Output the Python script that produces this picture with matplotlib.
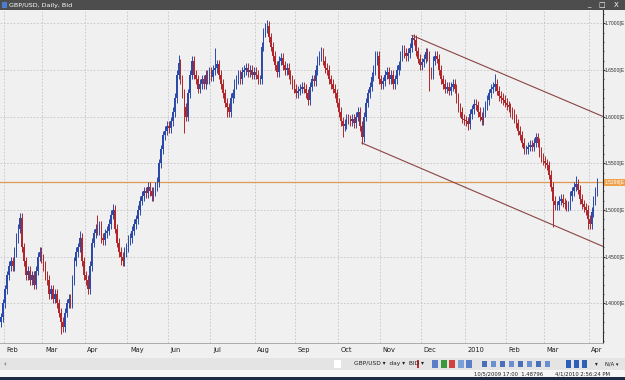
import numpy as np
import pandas as pd
import matplotlib
matplotlib.use("Agg")
import matplotlib.pyplot as plt
from matplotlib.patches import Rectangle
import matplotlib.transforms as mtransforms

# ---------------- data (GBP/USD daily closes) ----------------
closes = [
    1.385, 1.400, 1.415, 1.430, 1.440, 1.445, 1.440, 1.455, 1.470, 1.480,
    1.492, 1.460, 1.445, 1.430, 1.435, 1.425, 1.430, 1.420, 1.435, 1.450,
    1.455, 1.448, 1.440, 1.430, 1.425, 1.410, 1.415, 1.405, 1.410, 1.400,
    1.390, 1.380, 1.375, 1.390, 1.400, 1.405, 1.400, 1.425, 1.445, 1.455,
    1.460, 1.470, 1.445, 1.430, 1.425, 1.415, 1.440, 1.465, 1.475, 1.480,
    1.478, 1.483, 1.470, 1.468, 1.475, 1.478, 1.485, 1.495, 1.500, 1.480,
    1.465, 1.455, 1.450, 1.445, 1.455, 1.460, 1.468, 1.470, 1.478, 1.485,
    1.490, 1.500, 1.510, 1.515, 1.520, 1.518, 1.525, 1.520, 1.515, 1.520,
    1.525, 1.530, 1.550, 1.565, 1.580, 1.585, 1.590, 1.588, 1.595, 1.605,
    1.620, 1.645, 1.657, 1.640, 1.625, 1.610, 1.600, 1.625, 1.645, 1.660,
    1.645, 1.640, 1.630, 1.635, 1.640, 1.635, 1.645, 1.640, 1.648, 1.643,
    1.650, 1.652, 1.656, 1.645, 1.635, 1.625, 1.615, 1.610, 1.605, 1.620,
    1.625, 1.635, 1.640, 1.645, 1.640, 1.648, 1.650, 1.652, 1.648, 1.650,
    1.645, 1.648, 1.645, 1.640, 1.640, 1.675, 1.690, 1.695, 1.697, 1.685,
    1.675, 1.665, 1.655, 1.648, 1.660, 1.663, 1.655, 1.650, 1.652, 1.645,
    1.640, 1.635, 1.630, 1.625, 1.628, 1.630, 1.632, 1.630, 1.625, 1.618,
    1.632, 1.640, 1.638, 1.650, 1.660, 1.665, 1.668, 1.660, 1.652, 1.650,
    1.640, 1.635, 1.630, 1.625, 1.615, 1.605, 1.595, 1.590, 1.592, 1.598,
    1.597, 1.595, 1.598, 1.593, 1.600, 1.605, 1.590, 1.578, 1.600, 1.615,
    1.625, 1.632, 1.643, 1.650, 1.660, 1.665, 1.640, 1.635, 1.638, 1.645,
    1.648, 1.640, 1.645, 1.635, 1.640, 1.650, 1.655, 1.665, 1.672, 1.668,
    1.665, 1.668, 1.674, 1.684, 1.682, 1.670, 1.662, 1.655, 1.658, 1.662,
    1.669, 1.665, 1.648, 1.645, 1.660, 1.665, 1.662, 1.650, 1.640, 1.635,
    1.630, 1.632, 1.628, 1.632, 1.635, 1.630, 1.620, 1.610, 1.605, 1.598,
    1.596, 1.595, 1.592, 1.603, 1.608, 1.614, 1.612, 1.605, 1.600, 1.596,
    1.605, 1.612, 1.618, 1.625, 1.630, 1.632, 1.635, 1.628, 1.622, 1.620,
    1.618, 1.615, 1.612, 1.610, 1.605, 1.603, 1.598, 1.593, 1.585, 1.580,
    1.572, 1.565, 1.565, 1.568, 1.570, 1.568, 1.572, 1.578, 1.572, 1.562,
    1.556, 1.553, 1.550, 1.548, 1.538, 1.525, 1.510, 1.505, 1.505, 1.510,
    1.512, 1.508, 1.506, 1.504, 1.505, 1.515, 1.520, 1.525, 1.528, 1.522,
    1.512, 1.506, 1.503, 1.500, 1.490, 1.485, 1.498, 1.510, 1.520, 1.529,
]
first_open = 1.380
start_date = "2009-01-29"

# notable extreme highs / lows (candle index -> price)
extreme_highs = {10: 1.497, 41: 1.478, 50: 1.495, 58: 1.507, 92: 1.666, 111: 1.673,
                 138: 1.703, 166: 1.675, 194: 1.670, 213: 1.687, 256: 1.646, 298: 1.537}
extreme_lows = {31: 1.367, 62: 1.441, 95: 1.582, 117: 1.600, 177: 1.578, 187: 1.571,
                222: 1.627, 242: 1.586, 286: 1.482, 304: 1.480}

last_price = 1.5296
upper_channel_x = [213, 312.5]
upper_channel_y = [1.687, 1.5997]
lower_channel_x = [187, 312.5]
lower_channel_y = [1.5718, 1.4606]
price_ticks = [1.40, 1.45, 1.50, 1.55, 1.60, 1.65, 1.70]
month_names = {1: "2010", 2: "Feb", 3: "Mar", 4: "Apr", 5: "May", 6: "Jun", 7: "Jul",
               8: "Aug", 9: "Sep", 10: "Oct", 11: "Nov", 12: "Dec"}

# ---------------- derived ----------------
n = len(closes)
idx = np.arange(n)
dates = pd.bdate_range(start_date, periods=n)
opens = [first_open] + closes[:-1]
WICK = 0.005
highs = [max(o, c) + WICK for o, c in zip(opens, closes)]
lows = [min(o, c) - WICK for o, c in zip(opens, closes)]
for k, v in extreme_highs.items():
    highs[k] = v
for k, v in extreme_lows.items():
    lows[k] = v

BLUE = "#2a49a8"
RED = "#b0262a"
BG = "#f0f0f0"
AXFONT = ["Liberation Sans", "DejaVu Sans"]
AXFS = 3.6

W, H = 625, 380
fig = plt.figure(figsize=(W / 100, H / 100), dpi=100)
fig.patch.set_facecolor(BG)

top_px, bot_px, right_px = 10, 343, 603
ax = fig.add_axes([0, 1 - bot_px / H, right_px / W, (bot_px - top_px) / H])
ax.set_facecolor(BG)

px_per = 1.93
ax.set_xlim(-0.5, right_px / px_per - 0.5)
ax.set_ylim(1.3577, 1.7142)

# grid
for p in np.arange(1.35, 1.7001, 0.05):
    ax.axhline(p, color="#c4c4c4", lw=0.6, ls=(0, (2, 2)), zorder=0)
month_starts = [i for i in range(1, n) if dates[i].month != dates[i - 1].month]
trans = mtransforms.blended_transform_factory(ax.transData, ax.transAxes)
for i in month_starts:
    ax.axvline(i - 0.5, color="#c4c4c4", lw=0.6, ls=(0, (2, 2)), zorder=0)
    ax.text(i + 0.8, -0.012, month_names[dates[i].month], transform=trans,
            ha="left", va="top", fontsize=4.8, color="#202020", clip_on=False)

# candles
ups = [c >= o for o, c in zip(opens, closes)]
cols = [BLUE if u else RED for u in ups]
ax.vlines(idx, lows, highs, colors=cols, lw=0.7, zorder=2)
bottoms = [min(o, c) for o, c in zip(opens, closes)]
heights = [max(abs(c - o), 0.0008) for o, c in zip(opens, closes)]
ax.bar(idx, heights, bottom=bottoms, width=0.8, color=cols, linewidth=0, zorder=3)

# channel + last price line
ax.plot(upper_channel_x, upper_channel_y, color="#8a4444", lw=0.8, zorder=4)
ax.plot(lower_channel_x, lower_channel_y, color="#8a4444", lw=0.8, zorder=4)
ax.axhline(last_price, color="#dd9a55", lw=0.9, zorder=1)

# right axis
ax.yaxis.tick_right()
ax.set_yticks(price_ticks)
ax.set_yticklabels([f"{p:.4f}[E" for p in price_ticks], family=AXFONT)
ax.set_yticks(np.arange(1.36, 1.711, 0.01), minor=True)
ax.tick_params(axis="y", which="major", labelsize=AXFS, length=1.2, pad=0.3,
               colors="#303030")
ax.tick_params(axis="y", which="minor", length=1.0, colors="#303030")
ax.set_xticks([])
for s in ["top", "left"]:
    ax.spines[s].set_visible(False)
ax.spines["right"].set_color("#303030")
ax.spines["right"].set_linewidth(0.8)
ax.spines["bottom"].set_color("#a0a0a0")
ax.spines["bottom"].set_linewidth(0.6)

ytrans = mtransforms.blended_transform_factory(ax.transAxes, ax.transData)
ax.text(1.0035, last_price, f"{last_price:.4f}[E", transform=ytrans, ha="left",
        va="center", fontsize=AXFS, family=AXFONT, color="white", clip_on=False,
        zorder=6, bbox=dict(facecolor="#eea04a", edgecolor="none", pad=0.6))

# ---------------- window chrome ----------------
def frect(x0, y0, x1, y1, color, z=0):
    fig.add_artist(Rectangle((x0 / W, 1 - y1 / H), (x1 - x0) / W, (y1 - y0) / H,
                             transform=fig.transFigure, facecolor=color,
                             edgecolor="none", zorder=z))

def ftext(x, y, s, **kw):
    fig.text(x / W, 1 - y / H, s, **kw)

# title bar
frect(0, 0, W, top_px, "#4d4d4d", 5)
frect(2, 2, 7, 8, "#4a7fd0", 6)
ftext(9, 5, "GBP/USD, Daily, Bid", fontsize=4.6, color="white", va="center",
      ha="left", zorder=7)
ftext(589, 4.5, "_", fontsize=5, color="white", va="center", ha="center", zorder=7)
ftext(602, 5, "□", fontsize=5, color="white", va="center", ha="center", zorder=7)
ftext(616, 5, "X", fontsize=5, color="white", va="center", ha="center", zorder=7)

# toolbar
frect(0, 358, W, 370, "#e4e4e4", 5)
frect(0, 357.5, W, 358, "#b8b8b8", 6)
ftext(4, 364, "‹", fontsize=5, color="#333333", va="center", zorder=7)
frect(334, 360, 341, 368, "#ffffff", 6)
ftext(354, 364, "GBP/USD ▾  day ▾  BID ▾", fontsize=4.2, color="#202020",
      va="center", ha="left", zorder=7)
frect(417, 360, 419, 368, "#c03030", 6)
icon_cols = ["#5a7ec8", "#3c9a3c", "#d04040", "#7aa0d8", "#5a7ec8"]
for k, c in enumerate(icon_cols):
    frect(432 + k * 8.5, 360, 438 + k * 8.5, 368, c, 6)
for k in range(8):
    frect(482 + k * 9, 361, 487 + k * 9, 367, "#6a8fd0" if k % 2 else "#4a6fb8", 6)
for k in range(3):
    frect(566 + k * 8, 360, 571 + k * 8, 368, "#2d5fb8", 6)
ftext(595, 364, "▾", fontsize=4, color="#202020", va="center", zorder=7)
ftext(605, 364, "N/A ▾", fontsize=3.8, color="#202020", va="center", zorder=7)

# status bar + taskbar
frect(0, 370, W, 377, "#f6f6f6", 5)
ftext(474, 373.5, "10/5/2009 17:00  1.48796", fontsize=3.8, color="#202020",
      va="center", zorder=7)
ftext(555, 373.5, "4/1/2010 2:56:24 PM", fontsize=3.8, color="#202020",
      va="center", zorder=7)
frect(0, 377, W, H, "#1d2b44", 5)

fig.savefig("out.png", dpi=100, facecolor=fig.get_facecolor())
